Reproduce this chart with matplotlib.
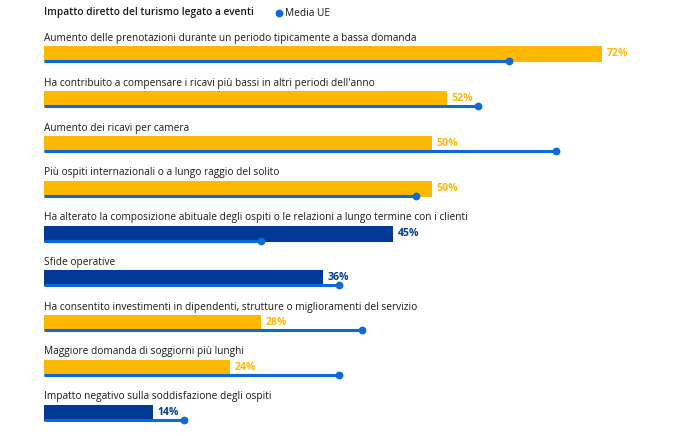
import matplotlib
matplotlib.use("Agg")
import matplotlib.pyplot as plt

categories = [
    "Aumento delle prenotazioni durante un periodo tipicamente a bassa domanda",
    "Ha contribuito a compensare i ricavi più bassi in altri periodi dell'anno",
    "Aumento dei ricavi per camera",
    "Più ospiti internazionali o a lungo raggio del solito",
    "Ha alterato la composizione abituale degli ospiti o le relazioni a lungo termine con i clienti",
    "Sfide operative",
    "Ha consentito investimenti in dipendenti, strutture o miglioramenti del servizio",
    "Maggiore domanda di soggiorni più lunghi",
    "Impatto negativo sulla soddisfazione degli ospiti",
]
values = [72, 52, 50, 50, 45, 36, 28, 24, 14]
eu_avg = [60, 56, 66, 48, 28, 38, 41, 38, 18]
positive = [True, True, True, True, False, False, True, True, False]
title = "Impatto diretto del turismo legato a eventi"
legend_label = "Media UE"

YELLOW = "#FFB800"
DARK = "#003A96"
LINE = "#0A6AD8"
TEXT = "#1a1a1a"

W, H = 674, 436
fig = plt.figure(figsize=(W / 100, H / 100), dpi=100)
ax = fig.add_axes([0, 0, 1, 1])
ppu = 7.75  # px per percent
x0 = 44
ax.set_xlim(-x0 / ppu, (W - x0) / ppu)
ax.set_ylim(H, 0)
ax.axis("off")

font = "Open Sans"
fs = 7.3
top0 = 46.5
pitch = 44.75
bar_h = 16
for i, (cat, v, e, pos) in enumerate(zip(categories, values, eu_avg, positive)):
    top = top0 + i * pitch
    col = YELLOW if pos else DARK
    ax.barh(top + bar_h / 2, v, height=bar_h, left=0, color=col, linewidth=0)
    ly = top + bar_h - 1
    ax.plot([0, e], [ly, ly], color=LINE, lw=2.2, solid_capstyle="butt", zorder=3)
    ax.plot([e], [ly], "o", color=LINE, ms=5.6, mew=0, zorder=4)
    ax.text(0, top - 8, cat, fontsize=fs, family=font, color=TEXT, va="center", ha="left")
    ax.text(v + 0.6, top + 7.5, f"{v}%", fontsize=fs + 0.3, family=font, fontweight="bold",
            color=col, va="center", ha="left")

ax.text(0, 13, title, fontsize=fs, family=font, fontweight="semibold", color=TEXT,
        va="center", ha="left")
ax.plot([(279 - x0) / ppu], [13], "o", color=LINE, ms=5.6, mew=0)
ax.text((285 - x0) / ppu, 13, legend_label, fontsize=fs, family=font, color=TEXT,
        va="center", ha="left")

fig.savefig("out.png", dpi=100, facecolor="white")
